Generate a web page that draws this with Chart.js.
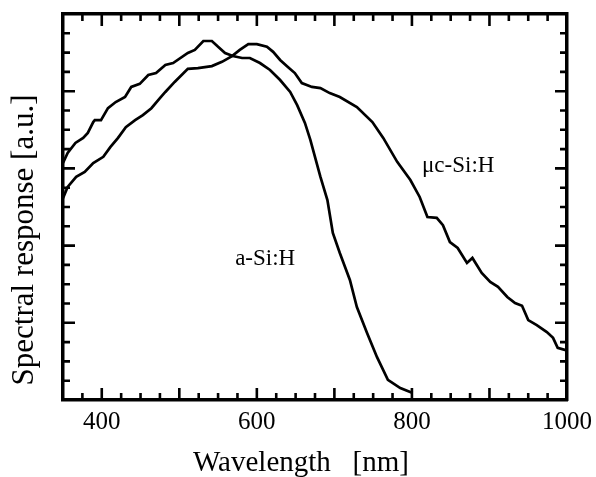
<!DOCTYPE html>
<html>
<head>
<meta charset="utf-8">
<script src="https://cdn.jsdelivr.net/npm/chart.js@4/dist/chart.umd.min.js"></script>
<style>
  html, body { margin: 0; padding: 0; background: #fff; }
  #c { display: block; }
</style>
</head>
<body>
<canvas id="c" width="596" height="477"></canvas>
<script>
// ---- data ----
const aSiWavelength = [350,356,366,376,382,389,391,399,408,418,430,438,449,460,470,482,492,511,520,531,542,550,559,569,581,591,604,617,630,643,652,662,669,682,691,698,707,720,729,742,755,769,785,801];
const aSiResponse   = [61.4,64.0,66.6,67.9,69.2,72.0,72.5,72.5,75.6,77.2,78.5,81.1,81.9,84.2,84.7,86.8,87.3,89.9,90.7,93.0,93.0,91.5,89.9,89.1,88.6,88.6,87.3,85.5,82.9,79.8,76.4,71.8,67.4,57.8,51.8,43.3,38.1,31.1,24.1,17.4,11.1,5.2,3.1,1.8];

const ucSiWavelength = [350,356,367,378,389,402,411,421,431,443,453,464,475,482,494,511,524,542,555,568,578,589,600,613,621,630,640,649,658,671,682,694,707,729,749,763,781,798,810,820,832,840,849,859,871,878,890,901,911,923,933,942,950,961,974,982,988,997,1000];
const ucSiResponse   = [52.3,55.2,57.8,59.1,61.4,63.0,65.5,67.9,70.7,72.5,73.8,75.6,78.2,79.8,82.4,85.8,86.0,86.5,87.6,89.1,90.7,92.2,92.2,91.5,90.2,88.1,86.3,84.7,82.1,81.1,80.8,79.5,78.5,75.9,72.0,67.9,61.7,57.0,52.6,47.4,47.2,45.3,40.9,39.4,35.5,36.8,32.9,30.6,29.3,26.7,25.1,24.4,20.7,19.4,17.6,16.1,13.5,13.0,13.0];

const xTickLabels = [400, 600, 800, 1000];
const seriesNames = ['a-Si:H', 'μc-Si:H'];
const xTitle = 'Wavelength   [nm]';
const yTitle = 'Spectral response [a.u.]';
// annotation anchors (data coordinates: wavelength, response)
const labelAnchors = [[572, 35.0], [813, 59.1]];

const SERIF = '"Liberation Serif", "Times New Roman", serif';

const toPoints = (xs, ys) => xs.map((x, i) => ({x: x, y: ys[i]}));

const innerTicks = {
  id: 'innerTicks',
  afterDatasetsDraw(chart) {
    const ctx = chart.ctx, a = chart.chartArea;
    const xs = chart.scales.x, ys = chart.scales.y;
    ctx.save();
    ctx.strokeStyle = '#000';
    ctx.lineWidth = 2.6;
    ctx.lineCap = 'butt';
    xs.ticks.forEach(t => {
      const v = t.value;
      if (v <= xs.min || v >= xs.max) return;
      const p = xs.getPixelForValue(v);
      const len = (v % 100 === 0) ? 12 : 7;
      ctx.beginPath();
      ctx.moveTo(p, a.bottom); ctx.lineTo(p, a.bottom - len);
      ctx.moveTo(p, a.top); ctx.lineTo(p, a.top + len);
      ctx.stroke();
    });
    ys.ticks.forEach(t => {
      const v = t.value;
      if (v <= ys.min || v >= ys.max) return;
      const p = ys.getPixelForValue(v);
      const len = (Math.round(v) % 20 === 0) ? 12 : 7;
      ctx.beginPath();
      ctx.moveTo(a.left, p); ctx.lineTo(a.left + len, p);
      ctx.moveTo(a.right, p); ctx.lineTo(a.right - len, p);
      ctx.stroke();
    });
    ctx.restore();
  }
};

const texts = {
  id: 'texts',
  afterDraw(chart) {
    const ctx = chart.ctx;
    const xs = chart.scales.x, ys = chart.scales.y;
    ctx.save();
    ctx.fillStyle = '#000';
    // series labels
    ctx.font = '23px ' + SERIF;
    ctx.textAlign = 'left';
    ctx.textBaseline = 'alphabetic';
    seriesNames.forEach((n, i) => {
      ctx.fillText(n, xs.getPixelForValue(labelAnchors[i][0]), ys.getPixelForValue(labelAnchors[i][1]));
    });
    // x title
    ctx.font = '29px ' + SERIF;
    ctx.textAlign = 'center';
    ctx.fillText(xTitle, 301, 471);
    // y title
    ctx.font = '31px ' + SERIF;
    ctx.translate(33, 240);
    ctx.rotate(-Math.PI / 2);
    ctx.fillText(yTitle, 0, 0);
    ctx.restore();
  }
};

const borderOpt = {display: true, width: 3.5, color: '#000'};

new Chart(document.getElementById('c'), {
  type: 'line',
  data: {
    datasets: [
      {label: seriesNames[0], data: toPoints(aSiWavelength, aSiResponse), borderColor: '#000', borderWidth: 2.7, pointRadius: 0, tension: 0, fill: false},
      {label: seriesNames[1], data: toPoints(ucSiWavelength, ucSiResponse), borderColor: '#000', borderWidth: 2.7, pointRadius: 0, tension: 0, fill: false}
    ]
  },
  options: {
    responsive: false,
    animation: false,
    devicePixelRatio: 1,
    layout: {padding: {left: 63, top: 14, right: 29, bottom: 0}},
    plugins: {legend: {display: false}, tooltip: {enabled: false}},
    scales: {
      x: {
        type: 'linear', position: 'bottom', min: 350, max: 1000,
        grid: {display: false, drawTicks: false},
        border: borderOpt,
        ticks: {
          stepSize: 25, autoSkip: false, maxRotation: 0, minRotation: 0,
          padding: 7, color: '#000',
          font: {family: SERIF, size: 25},
          callback: v => xTickLabels.includes(v) ? String(v) : ''
        },
        afterFit: s => { s.height = 77; s.paddingLeft = 0; s.paddingRight = 0; }
      },
      x2: {
        type: 'linear', position: 'top', min: 350, max: 1000,
        grid: {display: false, drawTicks: false}, border: borderOpt, ticks: {display: false},
        afterFit: s => { s.height = 0; }
      },
      y: {
        type: 'linear', position: 'left', min: 0, max: 100,
        grid: {display: false, drawTicks: false}, border: borderOpt,
        ticks: {display: false, stepSize: 5},
        afterFit: s => { s.width = 0; }
      },
      y2: {
        type: 'linear', position: 'right', min: 0, max: 100,
        grid: {display: false, drawTicks: false}, border: borderOpt, ticks: {display: false},
        afterFit: s => { s.width = 0; }
      }
    }
  },
  plugins: [innerTicks, texts]
});
</script>
</body>
</html>
